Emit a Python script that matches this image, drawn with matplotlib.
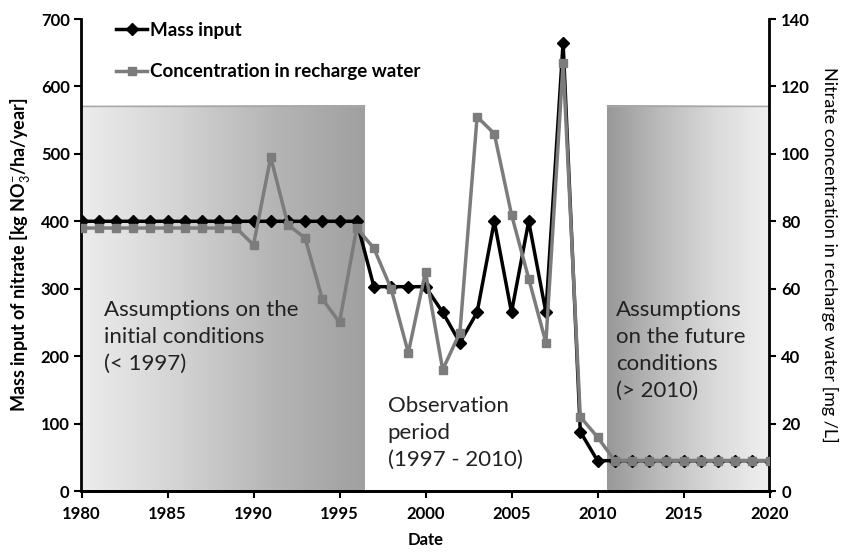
import numpy as np
import matplotlib
matplotlib.use("Agg")
import matplotlib.pyplot as plt
from matplotlib.lines import Line2D
from matplotlib.colors import LinearSegmentedColormap

plt.rcParams['font.family'] = ['Lato', 'DejaVu Sans']
plt.rcParams['mathtext.fontset'] = 'custom'
plt.rcParams['mathtext.rm'] = 'Lato'
plt.rcParams['mathtext.bf'] = 'Lato:bold'

years = list(range(1980, 2021))
mass_input = [400]*17 + [303, 303, 303, 303, 265, 220, 265, 400, 265, 400, 265, 665, 88, 45] + [45]*10
concentration = [78]*10 + [73, 99, 79, 75, 57, 50, 78, 72, 60, 41, 65, 36, 47, 111, 106, 82, 63, 44, 127, 22, 16] + [9]*10

left_box_x = [1980, 1996.45]
right_box_x = [2010.55, 2020]
box_top = 571

annotations = [
    (1981.3, 284, "Assumptions on the\ninitial conditions\n(< 1997)"),
    (1997.8, 141, "Observation\nperiod\n(1997 - 2010)"),
    (2011.1, 284, "Assumptions\non the future\nconditions\n(> 2010)"),
]

fig = plt.figure(figsize=(8.45, 5.53), dpi=100)
ax = fig.add_axes([81.5/845, 1-491/553, (769.5-81.5)/845, (491-19)/553])
ax2 = ax.twinx()

grad = np.linspace(0, 1, 256).reshape(1, -1)
cm_left = LinearSegmentedColormap.from_list('l', ['#ececec', '#d4d4d4', '#b6b6b6', '#a0a0a0'])
cm_right = LinearSegmentedColormap.from_list('r', ['#989898', '#bcbcbc', '#dadada', '#f0f0f0'])
ax.imshow(grad, cmap=cm_left, aspect='auto', extent=[left_box_x[0], left_box_x[1], 0, box_top], zorder=0)
ax.imshow(grad, cmap=cm_right, aspect='auto', extent=[right_box_x[0], right_box_x[1], 0, box_top], zorder=0)
ax.plot(left_box_x, [box_top, box_top], color='#a8a8a8', lw=1, zorder=1)
ax.plot(right_box_x, [box_top, box_top], color='#a8a8a8', lw=1, zorder=1)

ax.plot(years, mass_input, color='black', lw=2.5, marker='D', ms=6, mfc='black', mec='black', zorder=3)
ax2.plot(years, concentration, color='#7c7c7c', lw=2.5, marker='s', ms=5.5, mfc='#7c7c7c', mec='#7c7c7c', zorder=3)

ax.set_xlim(1980, 2020)
ax.set_ylim(0, 700)
ax2.set_ylim(0, 140)
ax.set_xticks(range(1980, 2021, 5))
ax.set_yticks(range(0, 701, 100))
ax2.set_yticks(range(0, 141, 20))

for a in (ax, ax2):
    a.spines['top'].set_visible(False)
    for s in a.spines.values():
        s.set_linewidth(2)
    a.tick_params(direction='out', length=5, width=1.5, labelsize=12)
    a.tick_params(axis='x', pad=6)
    for lbl in a.get_xticklabels() + a.get_yticklabels():
        lbl.set_fontweight('bold')
ax2.spines['left'].set_visible(False)
ax.spines['right'].set_visible(False)

ax.set_xlabel('Date', fontsize=12, fontweight='bold', labelpad=7)
ax.set_ylabel(r'Mass input of nitrate [kg NO$_3^{-}$/ha/year]', fontsize=13, fontweight='bold', labelpad=6)
ax2.set_ylabel('Nitrate concentration in recharge water [mg /L]', fontsize=13, rotation=270, labelpad=20)

for x, y, t in annotations:
    ax.text(x, y, t, fontsize=16, color='#222222', va='top', ha='left', linespacing=1.45, zorder=4)

handles = [Line2D([], [], color='black', lw=2.5, marker='D', ms=6.5),
           Line2D([], [], color='#7c7c7c', lw=2.5, marker='s', ms=6)]
leg = ax.legend(handles, ['Mass input', 'Concentration in recharge water'], loc='upper left',
                bbox_to_anchor=(0.025, 1.03), frameon=False, handlelength=1.7, handletextpad=0.15,
                labelspacing=1.3, prop={'weight': 'bold', 'size': 13.5})

fig.savefig('out.png', dpi=100)
